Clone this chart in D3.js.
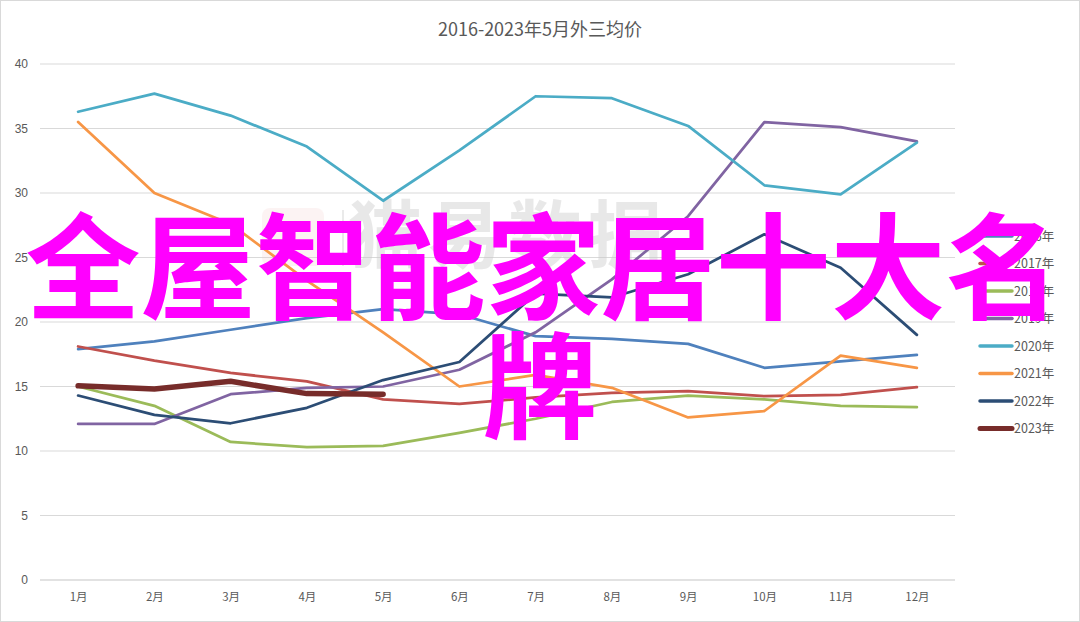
<!DOCTYPE html>
<html><head><meta charset="utf-8">
<script src="https://cdn.jsdelivr.net/npm/d3@7"></script>
<style>
html,body{margin:0;padding:0;background:#fff;}
svg{display:block;}
</style></head>
<body>
<svg id="chart" width="1080" height="622"></svg>
<script>
const months = ["1月","2月","3月","4月","5月","6月","7月","8月","9月","10月","11月","12月"];
const yTicks = [0,5,10,15,20,25,30,35,40];
const seriesNames = ["2016年","2017年","2018年","2019年","2020年","2021年","2022年","2023年"];
const seriesColors = ["#4F81BD","#C0504D","#9BBB59","#8064A2","#4BACC6","#F79646","#2C4D75","#772C2A"];
const v2016 = [17.9,18.5,19.4,20.3,21.0,20.6,18.9,18.7,18.3,16.45,16.95,17.45];
const v2017 = [18.1,17.0,16.05,15.4,14.0,13.65,14.15,14.5,14.65,14.25,14.35,14.95];
const v2018 = [15.0,13.5,10.7,10.3,10.4,11.4,12.5,13.8,14.3,14.0,13.5,13.4];
const v2019 = [12.1,12.1,14.4,14.9,15.0,16.3,19.2,23.3,28.2,35.5,35.1,34.0];
const v2020 = [36.3,37.7,36.0,33.6,29.4,33.3,37.5,37.35,35.2,30.6,29.9,33.9];
const v2021 = [35.5,30.0,27.6,23.2,19.2,15.0,15.9,14.9,12.6,13.1,17.4,16.45];
const v2022 = [14.3,12.8,12.15,13.35,15.5,16.9,22.2,21.9,23.7,26.8,24.2,19.0];
const v2023 = [15.05,14.8,15.4,14.45,14.4];
const seriesValues = [v2016,v2017,v2018,v2019,v2020,v2021,v2022,v2023];
const titleText = "2016-2023年5月外三均价";
const overlayLines = ["全屋智能家居十大名","牌"];
const watermarkText = "猫易数据";

const svg = d3.select("#chart");
const W = 1080, H = 622;
const cjk = "'Noto Sans CJK SC','Noto Sans',sans-serif";

// outer border
svg.append("rect").attr("x",0.5).attr("y",0.5).attr("width",W-1).attr("height",H-1)
  .attr("fill","#fff").attr("stroke","#D9D9D9");

const x = d3.scalePoint().domain(months).range([40,955]).padding(0.5);
const y = d3.scaleLinear().domain([0,40]).range([580,64]);

// gridlines
svg.append("g").selectAll("line").data(yTicks.filter(t=>t>0)).join("line")
  .attr("x1",40).attr("x2",955).attr("y1",d=>y(d)).attr("y2",d=>y(d))
  .attr("stroke","#D9D9D9").attr("stroke-width",1);

// watermark (faint)
const wm = svg.append("g").attr("opacity",0.4);
wm.append("rect").attr("x",262).attr("y",208).attr("width",62).attr("height",58).attr("rx",8)
  .attr("fill","#F4C7C7").attr("opacity",0.5);
wm.append("line").attr("x1",343).attr("x2",343).attr("y1",210).attr("y2",266).attr("stroke","#ccc").attr("stroke-width",2);
wm.append("text").attr("x",348).attr("y",262).attr("font-family",cjk).attr("font-size",74)
  .attr("font-weight",700).attr("fill","#C8C8C8").attr("letter-spacing",6).text(watermarkText);

// y axis
const yAxis = d3.axisLeft(y).tickValues(yTicks).tickSize(0).tickPadding(12);
const gy = svg.append("g").attr("transform","translate(40,0)").call(yAxis);
gy.select(".domain").remove();
gy.selectAll("text").attr("font-family","'Liberation Sans',sans-serif").attr("font-size",12).attr("fill","#595959");

// x axis
const xAxis = d3.axisBottom(x).tickSize(0).tickPadding(13);
const gx = svg.append("g").attr("transform","translate(0,580)").call(xAxis);
gx.select(".domain").attr("stroke","#D9D9D9").attr("stroke-width",1.5).attr("d","M40,0H955");
gx.selectAll("text").attr("font-family",cjk).attr("font-size",11.5).attr("fill","#595959");

// lines
const line = d3.line().x((d,i)=>x(months[i])).y(d=>y(d));
const gl = svg.append("g");
seriesValues.forEach((vals,k)=>{
  gl.append("path").attr("d",line(vals)).attr("fill","none")
    .attr("stroke",seriesColors[k]).attr("stroke-width",k===7?5.5:2.75)
    .attr("stroke-linejoin","round").attr("stroke-linecap","round");
});

// title
svg.append("text").attr("x",540).attr("y",36).attr("text-anchor","middle")
  .attr("font-family",cjk).attr("font-size",18).attr("fill","#595959").text(titleText);

// legend
const lg = svg.append("g");
seriesNames.forEach((n,k)=>{
  const yy = 236 + k*27.5;
  lg.append("line").attr("x1",980).attr("x2",1012).attr("y1",yy).attr("y2",yy)
    .attr("stroke",seriesColors[k]).attr("stroke-width",k===7?5:3.5).attr("stroke-linecap","round");
  lg.append("text").attr("x",1014).attr("y",yy+4.5).attr("font-family",cjk).attr("font-size",12.5)
    .attr("fill","#595959").text(n);
});

// overlay text
svg.append("text").attr("x",543).attr("y",310).attr("text-anchor","middle")
  .attr("font-family",cjk).attr("font-weight",700).attr("font-size",115).attr("fill","#FF00FF")
  .text(overlayLines[0]);
svg.append("text").attr("x",540).attr("y",429).attr("text-anchor","middle")
  .attr("font-family",cjk).attr("font-weight",700).attr("font-size",115).attr("fill","#FF00FF")
  .text(overlayLines[1]);
</script>
</body></html>
